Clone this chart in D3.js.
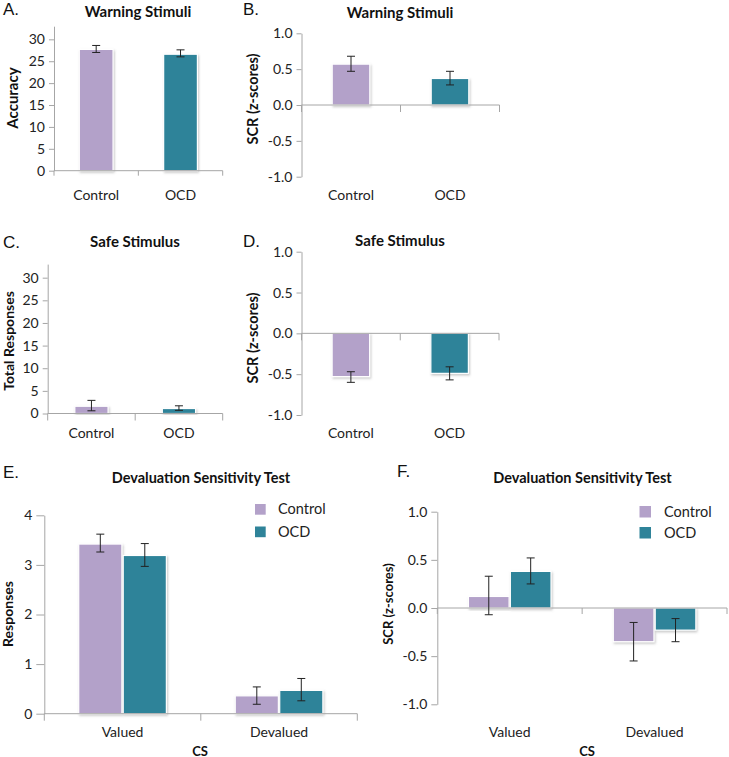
<!DOCTYPE html>
<html>
<head>
<meta charset="utf-8">
<script src="https://cdn.jsdelivr.net/npm/d3@7"></script>
<style>
  body { margin: 0; background: #fff; }
  svg { display: block; font-family: Lato, "Open Sans", sans-serif; }
</style>
</head>
<body>
<div id="chart"></div>
<script>
// ---- data ----
const groups = ["Control", "OCD"];
const csLevels = ["Valued", "Devalued"];

const accuracyMean = [27.7, 26.6];
const accuracyLo   = [27.0, 26.0];
const accuracyHi   = [28.6, 27.6];

const warnScrMean = [0.57, 0.37];
const warnScrLo   = [0.47, 0.28];
const warnScrHi   = [0.68, 0.47];

const safeRespMean = [1.6, 1.1];
const safeRespLo   = [0.6, 0.7];
const safeRespHi   = [2.9, 1.7];

const safeScrMean = [-0.53, -0.49];
const safeScrLo   = [-0.60, -0.57];
const safeScrHi   = [-0.47, -0.41];

const devalRespControl   = [3.42, 0.36];
const devalRespControlLo = [3.26, 0.19];
const devalRespControlHi = [3.62, 0.54];
const devalRespOCD       = [3.19, 0.47];
const devalRespOCDLo     = [2.97, 0.26];
const devalRespOCDHi     = [3.43, 0.71];

const devalScrControl   = [0.12, -0.35];
const devalScrControlLo = [-0.07, -0.55];
const devalScrControlHi = [0.33, -0.15];
const devalScrOCD       = [0.38, -0.23];
const devalScrOCDLo     = [0.25, -0.35];
const devalScrOCDHi     = [0.52, -0.11];

const countTicks = [0, 5, 10, 15, 20, 25, 30];
const zTicks = [-1, -0.5, 0, 0.5, 1];
const respTicks = [0, 1, 2, 3, 4];

const colors = { Control: "#b3a1c9", OCD: "#2f8399" };
const axisColor = "#a6a6a6";

const width = 729, height = 757;

const svg = d3.select("#chart").append("svg")
  .attr("width", width)
  .attr("height", height);

// soft shadow under the bars
const f = svg.append("defs").append("filter")
  .attr("id", "shadow").attr("x", "-20%").attr("y", "-20%")
  .attr("width", "140%").attr("height", "140%");
f.append("feDropShadow")
  .attr("dx", 1).attr("dy", 1.5).attr("stdDeviation", 1)
  .attr("flood-color", "#888").attr("flood-opacity", 0.45);

// single series panels: one bar per group, coloured by group
function singleRows(mean, lo, hi) {
  return groups.map((g, i) => ({ cat: g, key: "one", color: colors[g], value: mean[i], lo: lo[i], hi: hi[i] }));
}
// two series panels
function pairRows(c, cLo, cHi, o, oLo, oHi) {
  const rows = [];
  csLevels.forEach((cs, i) => {
    rows.push({ cat: cs, key: "Control", color: colors.Control, value: c[i], lo: cLo[i], hi: cHi[i] });
    rows.push({ cat: cs, key: "OCD", color: colors.OCD, value: o[i], lo: oLo[i], hi: oHi[i] });
  });
  return rows;
}

const fmtInt = d => d;
const fmtOne = d => d.toFixed(1);

function drawPanel(p) {
  const g = svg.append("g");
  const y = d3.scaleLinear().domain(p.domain).range([p.yBot, p.yTop]);
  const x = d3.scaleBand().domain(p.cats).range([p.x0, p.x1]);
  const groupW = x.bandwidth() * p.frac;
  const keys = Array.from(new Set(p.rows.map(r => r.key)));
  const inner = d3.scaleBand().domain(keys).range([0, groupW]).paddingInner(keys.length > 1 ? 0.03 : 0);

  // y axis
  const yAxis = g.append("g")
    .attr("transform", `translate(${p.x0},0)`)
    .call(d3.axisLeft(y).tickValues(p.ticks).tickFormat(p.fmt)
      .tickSize(p.tick).tickSizeOuter(0).tickPadding(4));
  yAxis.selectAll("path, line").attr("stroke", axisColor);
  yAxis.selectAll("text").attr("fill", "#222").style("font-size", "14px")
    .style("font-family", "Lato, sans-serif");

  // bars
  const bx = r => x(r.cat) + (x.bandwidth() - groupW) / 2 + inner(r.key);
  g.selectAll("rect.bar").data(p.rows).enter().append("rect")
    .attr("class", "bar")
    .attr("x", bx)
    .attr("width", inner.bandwidth())
    .attr("y", r => y(Math.max(0, r.value)))
    .attr("height", r => Math.abs(y(r.value) - y(0)))
    .attr("fill", r => r.color)
    .attr("stroke", "#fff").attr("stroke-width", 1.2)
    .attr("filter", "url(#shadow)");

  // x axis at zero
  const y0 = y(0);
  g.append("line")
    .attr("x1", p.x0).attr("x2", p.x1).attr("y1", y0).attr("y2", y0)
    .attr("stroke", axisColor);
  const bounds = p.cats.map(c => x(c)).concat([p.x1]);
  g.selectAll("line.xt").data(bounds).enter().append("line")
    .attr("x1", d => d).attr("x2", d => d)
    .attr("y1", y0).attr("y2", y0 + p.xTick)
    .attr("stroke", axisColor);

  // error bars
  const cap = 4;
  const eb = g.selectAll("g.err").data(p.rows).enter().append("g")
    .attr("transform", r => `translate(${bx(r) + inner.bandwidth() / 2},0)`)
    .attr("stroke", "#222").attr("stroke-width", 1);
  eb.append("line").attr("y1", r => y(r.lo)).attr("y2", r => y(r.hi));
  eb.append("line").attr("x1", -cap).attr("x2", cap).attr("y1", r => y(r.lo)).attr("y2", r => y(r.lo));
  eb.append("line").attr("x1", -cap).attr("x2", cap).attr("y1", r => y(r.hi)).attr("y2", r => y(r.hi));

  // category labels
  g.selectAll("text.cat").data(p.cats).enter().append("text")
    .attr("x", c => x(c) + x.bandwidth() / 2)
    .attr("y", p.catY)
    .attr("text-anchor", "middle")
    .style("font-size", "14px").attr("fill", "#222")
    .text(c => c);

  // title, letter, y label
  g.append("text").attr("x", p.titleX).attr("y", p.titleY)
    .attr("text-anchor", "middle").style("font-weight", "bold").style("font-size", p.titleSize + "px")
    .attr("fill", "#111").text(p.title);
  g.append("text").attr("x", p.letterX).attr("y", p.letterY)
    .style("font-family", "'Liberation Sans', Arial, sans-serif").style("font-size", "17px")
    .attr("fill", "#111").text(p.letter);
  g.append("text")
    .attr("transform", `translate(${p.ylabX},${p.ylabY}) rotate(-90)`)
    .attr("text-anchor", "middle").attr("dy", "0.35em")
    .style("font-weight", "bold").style("font-size", p.ylabSize + "px").attr("fill", "#111")
    .text(p.ylab);

  if (p.xlab) {
    g.append("text").attr("x", p.xlabX).attr("y", p.xlabY)
      .attr("text-anchor", "middle").style("font-weight", "bold").style("font-size", "13px")
      .attr("fill", "#111").text(p.xlab);
  }

  if (p.legend) {
    const lg = g.append("g");
    groups.forEach((name, i) => {
      const ly = p.legend.y + i * p.legend.step;
      lg.append("rect").attr("x", p.legend.x).attr("y", ly)
        .attr("width", p.legend.size).attr("height", p.legend.size)
        .attr("fill", colors[name]);
      lg.append("text").attr("x", p.legend.tx).attr("y", ly + p.legend.size / 2)
        .attr("dy", "0.35em").style("font-size", "14.5px").attr("fill", "#222")
        .text(name);
    });
  }
}

drawPanel({
  letter: "A.", letterX: 3, letterY: 15,
  title: "Warning Stimuli", titleX: 138, titleY: 17, titleSize: 15,
  ylab: "Accuracy", ylabX: 13, ylabY: 98, ylabSize: 15,
  cats: groups, rows: singleRows(accuracyMean, accuracyLo, accuracyHi),
  domain: [0, 33], ticks: countTicks, fmt: fmtInt, tick: 5, xTick: 5,
  x0: 54, x1: 222.7, yBot: 170.7, yTop: 26.2, frac: 0.4, catY: 200
});

drawPanel({
  letter: "B.", letterX: 243, letterY: 15,
  title: "Warning Stimuli", titleX: 400, titleY: 18, titleSize: 15,
  ylab: "SCR (z-scores)", ylabX: 253, ylabY: 99, ylabSize: 14.5,
  cats: groups, rows: singleRows(warnScrMean, warnScrLo, warnScrHi),
  domain: [-1, 1], ticks: zTicks, fmt: fmtOne, tick: 5, xTick: 7,
  x0: 301.5, x1: 499.5, yBot: 176.7, yTop: 33.3, frac: 0.38, catY: 200
});

drawPanel({
  letter: "C.", letterX: 3, letterY: 248,
  title: "Safe Stimulus", titleX: 135, titleY: 247, titleSize: 15,
  ylab: "Total Responses", ylabX: 9, ylabY: 341, ylabSize: 14,
  cats: groups, rows: singleRows(safeRespMean, safeRespLo, safeRespHi),
  domain: [0, 33], ticks: countTicks, fmt: fmtInt, tick: 5, xTick: 7,
  x0: 47.7, x1: 222.7, yBot: 413.5, yTop: 264.1, frac: 0.38, catY: 438
});

drawPanel({
  letter: "D.", letterX: 243, letterY: 247,
  title: "Safe Stimulus", titleX: 400, titleY: 246, titleSize: 15,
  ylab: "SCR (z-scores)", ylabX: 253, ylabY: 338, ylabSize: 14.5,
  cats: groups, rows: singleRows(safeScrMean, safeScrLo, safeScrHi),
  domain: [-1, 1], ticks: zTicks, fmt: fmtOne, tick: 5, xTick: 7,
  x0: 301.5, x1: 499, yBot: 415, yTop: 251.7, frac: 0.38, catY: 437.7
});

drawPanel({
  letter: "E.", letterX: 3, letterY: 478,
  title: "Devaluation Sensitivity Test", titleX: 201, titleY: 483, titleSize: 14.5,
  ylab: "Responses", ylabX: 8, ylabY: 614, ylabSize: 14,
  xlab: "CS", xlabX: 200, xlabY: 755.5,
  cats: csLevels,
  rows: pairRows(devalRespControl, devalRespControlLo, devalRespControlHi,
                 devalRespOCD, devalRespOCDLo, devalRespOCDHi),
  domain: [0, 4], ticks: respTicks, fmt: fmtInt, tick: 8, xTick: 7,
  x0: 44.3, x1: 357.3, yBot: 713.7, yTop: 515.3, frac: 0.56, catY: 737,
  legend: { x: 255, y: 504, size: 10.7, step: 22.5, tx: 278 }
});

drawPanel({
  letter: "F.", letterX: 397, letterY: 477,
  title: "Devaluation Sensitivity Test", titleX: 582.5, titleY: 483, titleSize: 14.5,
  ylab: "SCR (z-scores)", ylabX: 388, ylabY: 604, ylabSize: 13,
  xlab: "CS", xlabX: 587, xlabY: 755.5,
  cats: csLevels,
  rows: pairRows(devalScrControl, devalScrControlLo, devalScrControlHi,
                 devalScrOCD, devalScrOCDLo, devalScrOCDHi),
  domain: [-1, 1], ticks: zTicks, fmt: fmtOne, tick: 6, xTick: 6,
  x0: 437.3, x1: 727, yBot: 704.3, yTop: 511.7, frac: 0.57, catY: 737.3,
  legend: { x: 639.5, y: 506, size: 11.5, step: 21, tx: 664 }
});
</script>
</body>
</html>
